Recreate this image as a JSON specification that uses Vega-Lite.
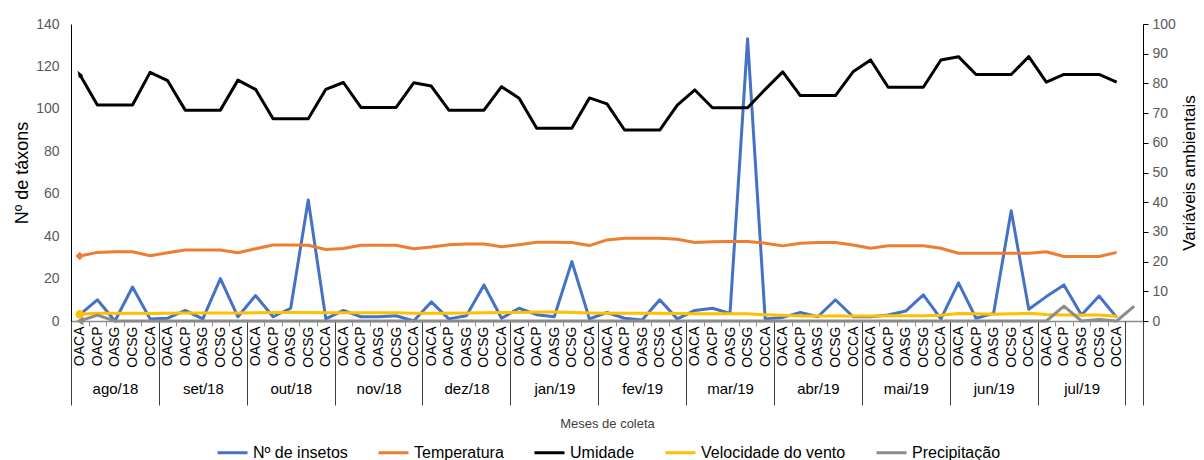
{
  "$schema": "https://vega.github.io/schema/vega-lite/v6.json",
  "width": 1072,
  "height": 297,
  "autosize": "none",
  "padding": {"left": 71, "top": 24, "right": 61, "bottom": 139},
  "background": "white",
  "config": {"view": {"stroke": null}, "font": "Liberation Sans", "axis": {"grid": false}},
  "data": {"values": [
    {"i":0,"mes":"ago/18","cat":"OACA","ins":3,"temp":21.9,"umid":83,"vento":2.3,"prec":0},
    {"i":1,"mes":"ago/18","cat":"OACP","ins":10,"temp":23.1,"umid":72.7,"vento":2.6,"prec":2},
    {"i":2,"mes":"ago/18","cat":"OASG","ins":0,"temp":23.3,"umid":72.7,"vento":2.6,"prec":0},
    {"i":3,"mes":"ago/18","cat":"OCSG","ins":16,"temp":23.3,"umid":72.7,"vento":2.6,"prec":0},
    {"i":4,"mes":"ago/18","cat":"OCCA","ins":1,"temp":22.0,"umid":83.7,"vento":2.5,"prec":0},
    {"i":5,"mes":"set/18","cat":"OACA","ins":1.3,"temp":23.0,"umid":80.9,"vento":2.6,"prec":0},
    {"i":6,"mes":"set/18","cat":"OACP","ins":5,"temp":23.9,"umid":71.0,"vento":2.7,"prec":0},
    {"i":7,"mes":"set/18","cat":"OASG","ins":1,"temp":23.9,"umid":71.0,"vento":2.7,"prec":0},
    {"i":8,"mes":"set/18","cat":"OCSG","ins":20,"temp":23.9,"umid":71.0,"vento":2.7,"prec":0},
    {"i":9,"mes":"set/18","cat":"OCCA","ins":2,"temp":23.0,"umid":81.1,"vento":2.7,"prec":0},
    {"i":10,"mes":"out/18","cat":"OACA","ins":12,"temp":24.3,"umid":78.0,"vento":2.8,"prec":0},
    {"i":11,"mes":"out/18","cat":"OACP","ins":2,"temp":25.6,"umid":68.1,"vento":2.9,"prec":0},
    {"i":12,"mes":"out/18","cat":"OASG","ins":6,"temp":25.6,"umid":68.1,"vento":2.9,"prec":0},
    {"i":13,"mes":"out/18","cat":"OCSG","ins":57,"temp":25.5,"umid":68.1,"vento":2.9,"prec":0},
    {"i":14,"mes":"out/18","cat":"OCCA","ins":1,"temp":24.1,"umid":78.0,"vento":2.8,"prec":0},
    {"i":15,"mes":"nov/18","cat":"OACA","ins":5,"temp":24.4,"umid":80.3,"vento":2.8,"prec":0},
    {"i":16,"mes":"nov/18","cat":"OACP","ins":2,"temp":25.5,"umid":71.9,"vento":2.8,"prec":0},
    {"i":17,"mes":"nov/18","cat":"OASG","ins":2,"temp":25.5,"umid":71.9,"vento":2.8,"prec":0},
    {"i":18,"mes":"nov/18","cat":"OCSG","ins":2.5,"temp":25.5,"umid":71.9,"vento":2.8,"prec":0},
    {"i":19,"mes":"nov/18","cat":"OCCA","ins":0,"temp":24.3,"umid":80.2,"vento":2.6,"prec":0},
    {"i":20,"mes":"dez/18","cat":"OACA","ins":9,"temp":24.9,"umid":79.1,"vento":2.6,"prec":0},
    {"i":21,"mes":"dez/18","cat":"OACP","ins":1,"temp":25.7,"umid":71.0,"vento":2.6,"prec":0},
    {"i":22,"mes":"dez/18","cat":"OASG","ins":2.5,"temp":25.9,"umid":71.0,"vento":2.7,"prec":0},
    {"i":23,"mes":"dez/18","cat":"OCSG","ins":17,"temp":25.9,"umid":71.0,"vento":2.8,"prec":0},
    {"i":24,"mes":"dez/18","cat":"OCCA","ins":1.3,"temp":25.0,"umid":78.9,"vento":2.9,"prec":0},
    {"i":25,"mes":"jan/19","cat":"OACA","ins":6,"temp":25.7,"umid":75.0,"vento":2.9,"prec":0},
    {"i":26,"mes":"jan/19","cat":"OACP","ins":3,"temp":26.5,"umid":64.9,"vento":3.0,"prec":0},
    {"i":27,"mes":"jan/19","cat":"OASG","ins":2,"temp":26.5,"umid":64.9,"vento":3.0,"prec":0},
    {"i":28,"mes":"jan/19","cat":"OCSG","ins":28,"temp":26.4,"umid":64.9,"vento":2.9,"prec":0},
    {"i":29,"mes":"jan/19","cat":"OCCA","ins":1,"temp":25.4,"umid":75.1,"vento":2.7,"prec":0},
    {"i":30,"mes":"fev/19","cat":"OACA","ins":4,"temp":27.3,"umid":73.1,"vento":2.6,"prec":0},
    {"i":31,"mes":"fev/19","cat":"OACP","ins":1.3,"temp":27.9,"umid":64.3,"vento":2.6,"prec":0},
    {"i":32,"mes":"fev/19","cat":"OASG","ins":0.5,"temp":27.9,"umid":64.3,"vento":2.6,"prec":0},
    {"i":33,"mes":"fev/19","cat":"OCSG","ins":10,"temp":27.9,"umid":64.3,"vento":2.6,"prec":0},
    {"i":34,"mes":"fev/19","cat":"OCCA","ins":1,"temp":27.5,"umid":72.7,"vento":2.5,"prec":0},
    {"i":35,"mes":"mar/19","cat":"OACA","ins":5,"temp":26.4,"umid":77.8,"vento":2.4,"prec":0},
    {"i":36,"mes":"mar/19","cat":"OACP","ins":6,"temp":26.7,"umid":71.8,"vento":2.4,"prec":0},
    {"i":37,"mes":"mar/19","cat":"OASG","ins":3.6,"temp":26.8,"umid":71.8,"vento":2.4,"prec":0},
    {"i":38,"mes":"mar/19","cat":"OCSG","ins":133,"temp":26.8,"umid":71.8,"vento":2.4,"prec":0},
    {"i":39,"mes":"mar/19","cat":"OCCA","ins":1,"temp":26.2,"umid":78.0,"vento":2.1,"prec":0},
    {"i":40,"mes":"abr/19","cat":"OACA","ins":1.7,"temp":25.3,"umid":83.9,"vento":1.9,"prec":0},
    {"i":41,"mes":"abr/19","cat":"OACP","ins":4,"temp":26.2,"umid":75.9,"vento":1.7,"prec":0},
    {"i":42,"mes":"abr/19","cat":"OASG","ins":2,"temp":26.4,"umid":75.9,"vento":1.7,"prec":0},
    {"i":43,"mes":"abr/19","cat":"OCSG","ins":10,"temp":26.4,"umid":75.9,"vento":1.7,"prec":0},
    {"i":44,"mes":"abr/19","cat":"OCCA","ins":2,"temp":25.6,"umid":83.9,"vento":1.7,"prec":0},
    {"i":45,"mes":"mai/19","cat":"OACA","ins":2,"temp":24.5,"umid":87.9,"vento":1.7,"prec":0},
    {"i":46,"mes":"mai/19","cat":"OACP","ins":2.8,"temp":25.3,"umid":78.7,"vento":1.8,"prec":0},
    {"i":47,"mes":"mai/19","cat":"OASG","ins":4.7,"temp":25.3,"umid":78.7,"vento":1.8,"prec":0},
    {"i":48,"mes":"mai/19","cat":"OCSG","ins":12.3,"temp":25.3,"umid":78.7,"vento":1.8,"prec":0},
    {"i":49,"mes":"mai/19","cat":"OCCA","ins":1,"temp":24.5,"umid":87.9,"vento":1.9,"prec":0},
    {"i":50,"mes":"jun/19","cat":"OACA","ins":18,"temp":22.8,"umid":89.0,"vento":2.5,"prec":0},
    {"i":51,"mes":"jun/19","cat":"OACP","ins":1.3,"temp":22.8,"umid":83.0,"vento":2.4,"prec":0},
    {"i":52,"mes":"jun/19","cat":"OASG","ins":3.6,"temp":22.8,"umid":83.0,"vento":2.3,"prec":0},
    {"i":53,"mes":"jun/19","cat":"OCSG","ins":52,"temp":22.8,"umid":83.0,"vento":2.4,"prec":0},
    {"i":54,"mes":"jun/19","cat":"OCCA","ins":5.5,"temp":22.8,"umid":89.0,"vento":2.6,"prec":0},
    {"i":55,"mes":"jul/19","cat":"OACA","ins":11.5,"temp":23.3,"umid":80.4,"vento":2.2,"prec":0},
    {"i":56,"mes":"jul/19","cat":"OACP","ins":17,"temp":21.7,"umid":83.0,"vento":2.0,"prec":5},
    {"i":57,"mes":"jul/19","cat":"OASG","ins":2.8,"temp":21.7,"umid":83.0,"vento":2.0,"prec":0},
    {"i":58,"mes":"jul/19","cat":"OCSG","ins":11.8,"temp":21.7,"umid":83.0,"vento":2.0,"prec":0.5},
    {"i":59,"mes":"jul/19","cat":"OCCA","ins":1.7,"temp":23.1,"umid":80.4,"vento":1.6,"prec":0},
    {"i":60,"mes":"","cat":"","prec":5}
  ]},
  "layer": [
    {
      "transform": [{"fold": ["ins"], "as": ["serie", "v"]}],
      "mark": {"type": "line", "strokeWidth": 3, "strokeJoin": "round"},
      "encoding": {
        "x": {
          "field": "i", "type": "quantitative",
          "scale": {"domain": [-0.5, 60.5], "nice": false, "zero": false},
          "axis": {
            "orient": "bottom",
            "values": [0,1,2,3,4,5,6,7,8,9,10,11,12,13,14,15,16,17,18,19,20,21,22,23,24,25,26,27,28,29,30,31,32,33,34,35,36,37,38,39,40,41,42,43,44,45,46,47,48,49,50,51,52,53,54,55,56,57,58,59],
            "labelExpr": "['OACA','OACP','OASG','OCSG','OCCA'][datum.value % 5]",
            "labelAngle": 270, "labelAlign": "right", "labelBaseline": "middle",
            "labelFontSize": 14, "labelColor": "#000000", "labelPadding": 5,
            "labelFlush": false, "labelOverlap": false, "labelBound": false,
            "ticks": false, "domain": true, "domainColor": "#8c8c8c", "domainWidth": 1.5,
            "title": null
          }
        },
        "y": {
          "field": "v", "type": "quantitative",
          "scale": {"domain": [0, 140], "nice": false},
          "axis": {
            "orient": "left", "values": [0,20,40,60,80,100,120,140],
            "ticks": false, "domainColor": "#000000", "domainWidth": 1,
            "labelColor": "#595959", "labelFontSize": 14, "labelPadding": 12,
            "title": "Nº de táxons", "titleFontSize": 18, "titleFontWeight": "normal",
            "titleColor": "#000000", "titlePadding": 4
          }
        },
        "color": {
          "field": "serie", "type": "nominal",
          "scale": {"domain": ["ins", "temp", "umid", "vento", "prec"], "range": ["#4472C4", "#ED7D31", "#000000", "#FFC000", "#8C8C8C"]},
          "legend": {
            "orient": "none", "legendX": 145, "legendY": 412, "direction": "horizontal",
            "title": null, "symbolType": "stroke", "symbolStrokeWidth": 3, "symbolSize": 900,
            "labelFontSize": 16, "labelColor": "#000000", "labelOffset": 4, "columnPadding": 24,
            "labelExpr": "datum.value == 'ins' ? 'Nº de insetos' : datum.value == 'temp' ? 'Temperatura' : datum.value == 'umid' ? 'Umidade' : datum.value == 'vento' ? 'Velocidade do vento' : 'Precipitação'"
          }
        }
      }
    },
    {
      "transform": [{"fold": ["temp", "umid", "vento", "prec"], "as": ["serie", "v"]}],
      "mark": {"type": "line", "strokeWidth": 3, "strokeJoin": "round"},
      "encoding": {
        "x": {
          "field": "i", "type": "quantitative",
          "axis": {
            "orient": "bottom",
            "values": [-0.5,0.5,1.5,2.5,3.5,4.5,5.5,6.5,7.5,8.5,9.5,10.5,11.5,12.5,13.5,14.5,15.5,16.5,17.5,18.5,19.5,20.5,21.5,22.5,23.5,24.5,25.5,26.5,27.5,28.5,29.5,30.5,31.5,32.5,33.5,34.5,35.5,36.5,37.5,38.5,39.5,40.5,41.5,42.5,43.5,44.5,45.5,46.5,47.5,48.5,49.5,50.5,51.5,52.5,53.5,54.5,55.5,56.5,57.5,58.5,59.5,60.5],
            "labels": false, "ticks": true, "tickSize": 5, "tickColor": "#8c8c8c", "tickWidth": 1,
            "domain": false, "title": null
          }
        },
        "y": {
          "field": "v", "type": "quantitative",
          "scale": {"domain": [0, 100], "nice": false},
          "axis": {
            "orient": "right", "values": [0,10,20,30,40,50,60,70,80,90,100],
            "ticks": true, "tickSize": 5, "tickColor": "#000000", "domainColor": "#000000",
            "labelColor": "#595959", "labelFontSize": 14, "labelPadding": 4,
            "title": "Variáveis ambientais", "titleAngle": 270, "titleFontSize": 17,
            "titleFontWeight": "normal", "titleColor": "#000000", "titlePadding": 23
          }
        },
        "color": {"field": "serie", "type": "nominal"}
      }
    },
    {
      "transform": [
        {"fold": ["temp", "umid", "vento", "prec"], "as": ["serie", "v"]},
        {"filter": "datum.i == 0"}
      ],
      "mark": {"type": "point", "filled": true, "opacity": 1, "size": 70},
      "encoding": {
        "x": {
          "field": "i", "type": "quantitative",
          "axis": {
            "orient": "bottom",
            "values": [-0.5,4.5,9.5,14.5,19.5,24.5,29.5,34.5,39.5,44.5,49.5,54.5,59.5,60.5],
            "labelExpr": "datum.value < 59 ? ['ago/18','set/18','out/18','nov/18','dez/18','jan/19','fev/19','mar/19','abr/19','mai/19','jun/19','jul/19'][round((datum.value + 0.5) / 5)] : ''",
            "labelAlign": "center", "labelAngle": 0, "labelOffset": 44, "labelPadding": -24,
            "labelFontSize": 15, "labelColor": "#000000",
            "labelFlush": false, "labelOverlap": false, "labelBound": false,
            "ticks": true, "tickSize": 84, "tickColor": "#404040", "tickWidth": 1,
            "domain": false,
            "title": "Meses de coleta", "titleFontSize": 13, "titleFontWeight": "normal",
            "titleColor": "#404040", "titlePadding": 12
          }
        },
        "y": {
          "field": "v", "type": "quantitative",
          "scale": {"domain": [0, 100], "nice": false},
          "axis": null
        },
        "color": {"field": "serie", "type": "nominal"},
        "shape": {
          "field": "serie", "type": "nominal",
          "scale": {"domain": ["temp", "umid", "vento", "prec"], "range": ["diamond", "M-0.5,-0.866L0.82,0.22L-0.22,0.82Z", "circle", "triangle-left"]},
          "legend": null
        }
      }
    }
  ],
  "resolve": {"scale": {"y": "independent"}, "axis": {"x": "independent", "y": "independent"}}
}
